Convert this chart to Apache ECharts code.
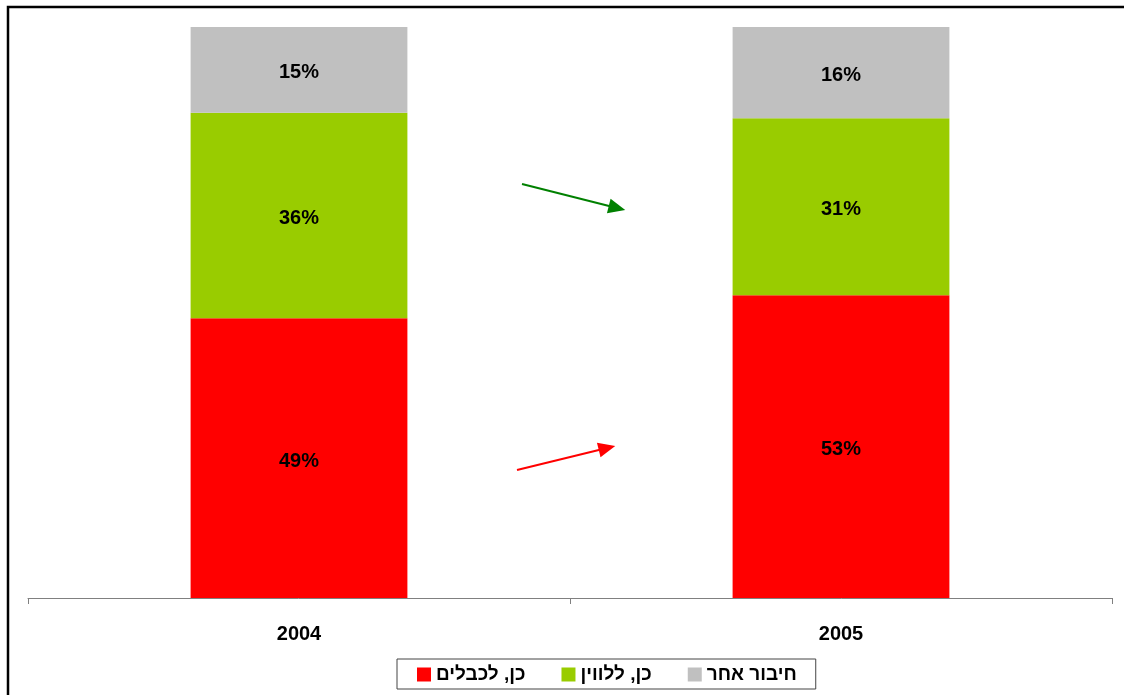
<!DOCTYPE html>
<html>
<head>
<meta charset="utf-8">
<script src="https://cdn.jsdelivr.net/npm/echarts@6/dist/echarts.min.js"></script>
<style>html,body{margin:0;padding:0;background:#fff;}#c{width:1124px;height:695px;}</style>
</head>
<body>
<div id="c"></div>
<script>
var categories = ['2004', '2005'];
var cable = [49, 53];
var satellite = [36, 31];
var other = [15, 16];
var seriesNames = ['כן, לכבלים', 'כן, ללווין', 'חיבור אחר'];

var chart = echarts.init(document.getElementById('c'));
var font = '"Liberation Sans", Arial, sans-serif';
var lbl = {show: true, position: 'inside', offset: [0, 3], color: '#000', fontWeight: 'bold', fontSize: 20, fontFamily: font,
  formatter: function(p){ return p.value + '%'; }};
chart.setOption({
  animation: false,
  textStyle: {fontFamily: font},
  grid: {left: 28, right: 12, top: 27, bottom: 97},
  legend: {
    data: seriesNames,
    icon: 'rect',
    left: 397, top: 659,
    padding: [6, 19, 5, 20],
    itemWidth: 14, itemHeight: 14, itemGap: 36,
    borderColor: '#444', borderWidth: 1,
    textStyle: {fontSize: 19, fontWeight: 'bold', color: '#000', fontFamily: font}
  },
  xAxis: {
    type: 'category', data: categories,
    axisLine: {lineStyle: {color: '#808080', width: 1}},
    axisTick: {show: true, length: 6, lineStyle: {color: '#808080'}},
    axisLabel: {color: '#000', fontWeight: 'bold', fontSize: 20, margin: 26, fontFamily: font}
  },
  yAxis: {type: 'value', min: 0, max: 100, show: false, splitLine: {show: false}},
  series: [
    {name: seriesNames[0], type: 'bar', stack: 's', barWidth: '40%', data: cable, itemStyle: {color: '#ff0000'}, label: lbl,
     markLine: {silent: true, symbol: ['none', 'triangle'], symbolSize: [15, 17], label: {show: false},
       data: [
         [{x: 522, y: 184, lineStyle: {color: '#008000', width: 2, type: 'solid'}, itemStyle: {color: '#008000'}}, {x: 617, y: 208}],
         [{x: 517, y: 470, lineStyle: {color: '#ff0000', width: 2, type: 'solid'}, itemStyle: {color: '#ff0000'}}, {x: 607, y: 448}]
       ]}},
    {name: seriesNames[1], type: 'bar', stack: 's', barWidth: '40%', data: satellite, itemStyle: {color: '#99cc00'}, label: lbl},
    {name: seriesNames[2], type: 'bar', stack: 's', barWidth: '40%', data: other, itemStyle: {color: '#c0c0c0'}, label: lbl}
  ],
  graphic: [
    {type: 'rect', shape: {x: 8, y: 7, width: 1130, height: 700}, style: {fill: 'none', stroke: '#000', lineWidth: 2.5}, z: 100}
  ]
});
</script>
</body>
</html>
